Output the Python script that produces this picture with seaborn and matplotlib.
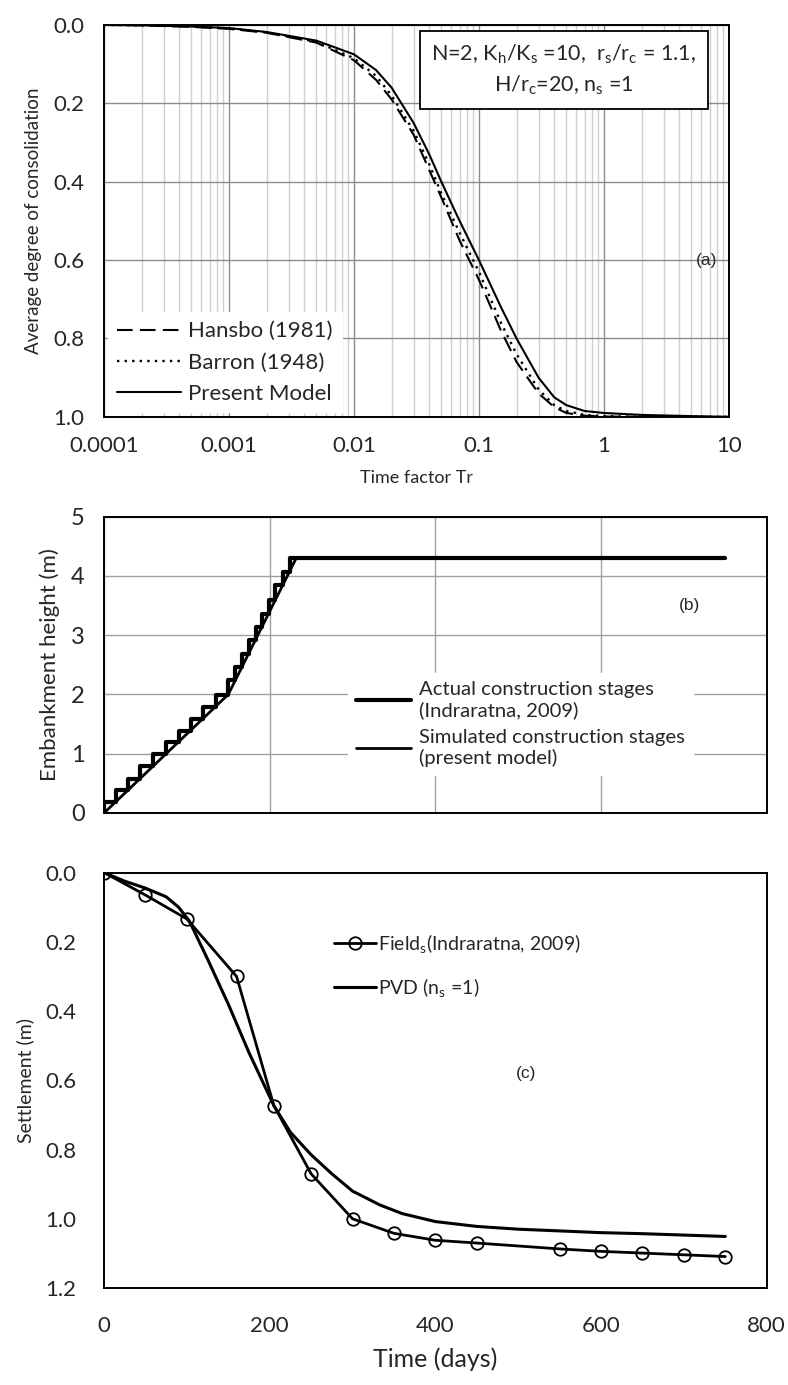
import numpy as np
import pandas as pd
import matplotlib
matplotlib.use("Agg")
import matplotlib.pyplot as plt
import matplotlib.ticker as mticker
import seaborn as sns

# ---- (a) average degree of consolidation vs time factor ----
tr = [1e-4, 2e-4, 5e-4, 1e-3, 2e-3, 5e-3, 0.01, 0.015, 0.02, 0.03, 0.04, 0.05, 0.07, 0.1,
      0.15, 0.2, 0.3, 0.4, 0.5, 0.7, 1, 2, 5, 10]
u_present = [0, 0.001, 0.004, 0.008, 0.018, 0.04, 0.075, 0.115, 0.16, 0.25, 0.33, 0.40,
             0.50, 0.60, 0.72, 0.80, 0.90, 0.95, 0.97, 0.985, 0.99, 0.995, 0.998, 1.0]
u_hansbo = [0, 0.001, 0.005, 0.01, 0.02, 0.045, 0.09, 0.14, 0.19, 0.28, 0.37, 0.44,
            0.55, 0.65, 0.78, 0.86, 0.94, 0.975, 0.99, 0.997, 0.999, 1.0, 1.0, 1.0]
u_barron = [0, 0.001, 0.004, 0.009, 0.019, 0.043, 0.085, 0.13, 0.18, 0.27, 0.355, 0.43,
            0.53, 0.63, 0.76, 0.84, 0.93, 0.97, 0.985, 0.995, 0.998, 1.0, 1.0, 1.0]

# ---- (b) embankment construction ----
stage_days = [0, 0, 14, 29, 44, 59, 75, 90, 105, 120, 135, 150, 158, 166, 175, 183,
              191, 199, 207, 216, 224, 750]
stage_height = [0, 0.19, 0.38, 0.58, 0.79, 0.99, 1.19, 1.39, 1.59, 1.79, 1.99, 2.24,
                2.46, 2.69, 2.91, 3.13, 3.36, 3.60, 3.84, 4.06, 4.30, 4.30]
sim_days = [0, 150, 232, 750]
sim_height = [0, 2.0, 4.3, 4.3]

# ---- (c) settlement ----
field_days = [0, 50, 100, 160, 205, 250, 300, 350, 400, 450, 550, 600, 650, 700, 750]
field_settle = [0, 0.065, 0.134, 0.30, 0.673, 0.87, 1.0, 1.042, 1.062, 1.07, 1.087,
                1.094, 1.099, 1.104, 1.109]
pvd_days = [0, 25, 50, 75, 90, 103, 125, 150, 175, 205, 225, 250, 275, 300, 333, 360,
            400, 450, 500, 550, 600, 650, 700, 750]
pvd_settle = [0, 0.025, 0.045, 0.07, 0.10, 0.14, 0.25, 0.38, 0.52, 0.673, 0.75, 0.815,
              0.87, 0.92, 0.96, 0.985, 1.008, 1.022, 1.03, 1.035, 1.04, 1.043, 1.047, 1.051]

sns.set_style("white")
plt.rcParams["font.family"] = ["Lato", "DejaVu Sans"]
plt.rcParams["mathtext.fontset"] = "custom"
plt.rcParams["mathtext.rm"] = "Lato"
plt.rcParams["mathtext.it"] = "Lato:italic"

fig = plt.figure(figsize=(7.88, 13.85), dpi=100)
ax_a = fig.add_axes([0.132, 0.699, 0.793, 0.283])
ax_b = fig.add_axes([0.132, 0.413, 0.841, 0.214])
ax_c = fig.add_axes([0.132, 0.070, 0.841, 0.300])

for ax in (ax_a, ax_b, ax_c):
    for s in ax.spines.values():
        s.set_color("black")
        s.set_linewidth(1.4)

# ===== panel (a) =====
sns.lineplot(x=tr, y=u_hansbo, ax=ax_a, color="black", linestyle=(0, (7.5, 3.5)),
             lw=1.5, estimator=None, label="Hansbo (1981)")
sns.lineplot(x=tr, y=u_barron, ax=ax_a, color="black", linestyle=(0, (1, 2.2)),
             lw=1.7, estimator=None, label="Barron (1948)")
sns.lineplot(x=tr, y=u_present, ax=ax_a, color="black", lw=1.5, estimator=None,
             label="Present Model")
ax_a.set_xscale("log")
ax_a.set_xlim(1e-4, 10)
ax_a.set_ylim(1.0, 0.0)
ax_a.xaxis.set_major_locator(mticker.FixedLocator([1e-4, 1e-3, 1e-2, 1e-1, 1, 10]))
ax_a.xaxis.set_major_formatter(mticker.FixedFormatter(["0.0001", "0.001", "0.01", "0.1", "1", "10"]))
ax_a.xaxis.set_minor_locator(mticker.LogLocator(base=10, subs=np.arange(2, 10)))
ax_a.xaxis.set_minor_formatter(mticker.NullFormatter())
ax_a.set_yticks([0, 0.2, 0.4, 0.6, 0.8, 1.0])
ax_a.yaxis.set_major_formatter(mticker.FormatStrFormatter("%.1f"))
ax_a.grid(which="minor", axis="x", color="#cfcfcf", lw=1)
ax_a.grid(which="major", axis="x", color="#8c8c8c", lw=1)
ax_a.grid(which="major", axis="y", color="#8c8c8c", lw=1)
ax_a.tick_params(which="major", direction="inout", length=10, width=1.3, labelsize=16, pad=9)
ax_a.tick_params(which="minor", length=0)
ax_a.set_xlabel("Time factor Tr", fontsize=13, labelpad=10)
ax_a.set_ylabel("Average degree of consolidation", fontsize=13.5, labelpad=8)
ax_a.legend(loc="lower left", fontsize=16, handlelength=2.85, handletextpad=0.35,
            labelspacing=0.5, frameon=True, fancybox=False, framealpha=1,
            edgecolor="white", borderaxespad=0.2)
ax_a.text(0.736, 0.885,
          "N=2, K$_\\mathrm{h}$/K$_\\mathrm{s}$ =10,  r$_\\mathrm{s}$/r$_\\mathrm{c}$ = 1.1,\n"
          "H/r$_\\mathrm{c}$=20, n$_\\mathrm{s}$ =1",
          transform=ax_a.transAxes, ha="center", va="center", fontsize=15.5,
          multialignment="center", linespacing=1.45,
          bbox=dict(boxstyle="square,pad=0.55", fc="white", ec="black", lw=1.3))
ax_a.text(0.965, 0.40, "(a)", transform=ax_a.transAxes, ha="center", va="center",
          fontsize=12.5, family=["Liberation Sans"])

# ===== panel (b) =====
sns.lineplot(x=stage_days, y=stage_height, ax=ax_b, color="black", lw=3,
             estimator=None, sort=False, drawstyle="steps-post",
             label="Actual construction stages\n(Indraratna, 2009)")
sns.lineplot(x=sim_days, y=sim_height, ax=ax_b, color="black", lw=2,
             estimator=None, sort=False,
             label="Simulated construction stages\n(present model)")
ax_b.set_xlim(0, 800)
ax_b.set_ylim(0, 5)
ax_b.set_xticks([0, 200, 400, 600, 800])
ax_b.set_xticklabels([])
ax_b.set_yticks([0, 1, 2, 3, 4, 5])
ax_b.grid(True, color="#a0a0a0", lw=1)
ax_b.tick_params(direction="out", length=8, width=1.3, labelsize=17, pad=6)
ax_b.set_ylabel("Embankment height (m)", fontsize=16, labelpad=8)
ax_b.legend(loc="center left", bbox_to_anchor=(0.353, 0.3), fontsize=14.6,
            handlelength=2.7, handletextpad=0.4, labelspacing=0.5, frameon=True,
            fancybox=False, framealpha=1, edgecolor="white")
ax_b.text(707, 3.5, "(b)", ha="center", va="center", fontsize=12.5,
          family=["Liberation Sans"])

# ===== panel (c) =====
sns.lineplot(x=field_days, y=field_settle, ax=ax_c, color="black", lw=2,
             estimator=None, marker="o", markersize=9, markerfacecolor="none",
             markeredgecolor="black", markeredgewidth=1.3,
             label="Field$_\\mathrm{s}$(Indraratna, 2009)")
sns.lineplot(x=pvd_days, y=pvd_settle, ax=ax_c, color="black", lw=2.2,
             estimator=None, label="PVD (n$_\\mathrm{s}$ =1)")
ax_c.set_xlim(0, 800)
ax_c.set_ylim(1.2, 0.0)
ax_c.set_xticks([0, 200, 400, 600, 800])
ax_c.set_yticks([0, 0.2, 0.4, 0.6, 0.8, 1.0, 1.2])
ax_c.yaxis.set_major_formatter(mticker.FormatStrFormatter("%.1f"))
ax_c.tick_params(direction="out", length=8, width=1.3, labelsize=16, pad=12)
ax_c.set_xlabel("Time (days)", fontsize=18, labelpad=8)
ax_c.set_ylabel("Settlement (m)", fontsize=14, labelpad=8)
ax_c.legend(loc="upper left", bbox_to_anchor=(0.32, 0.9), fontsize=14,
            handlelength=2.2, handletextpad=0.1, labelspacing=1.1, frameon=False)
ax_c.text(510, 0.58, "(c)", ha="center", va="center", fontsize=12.5,
          family=["Liberation Sans"])

fig.savefig("out.png", dpi=100)
